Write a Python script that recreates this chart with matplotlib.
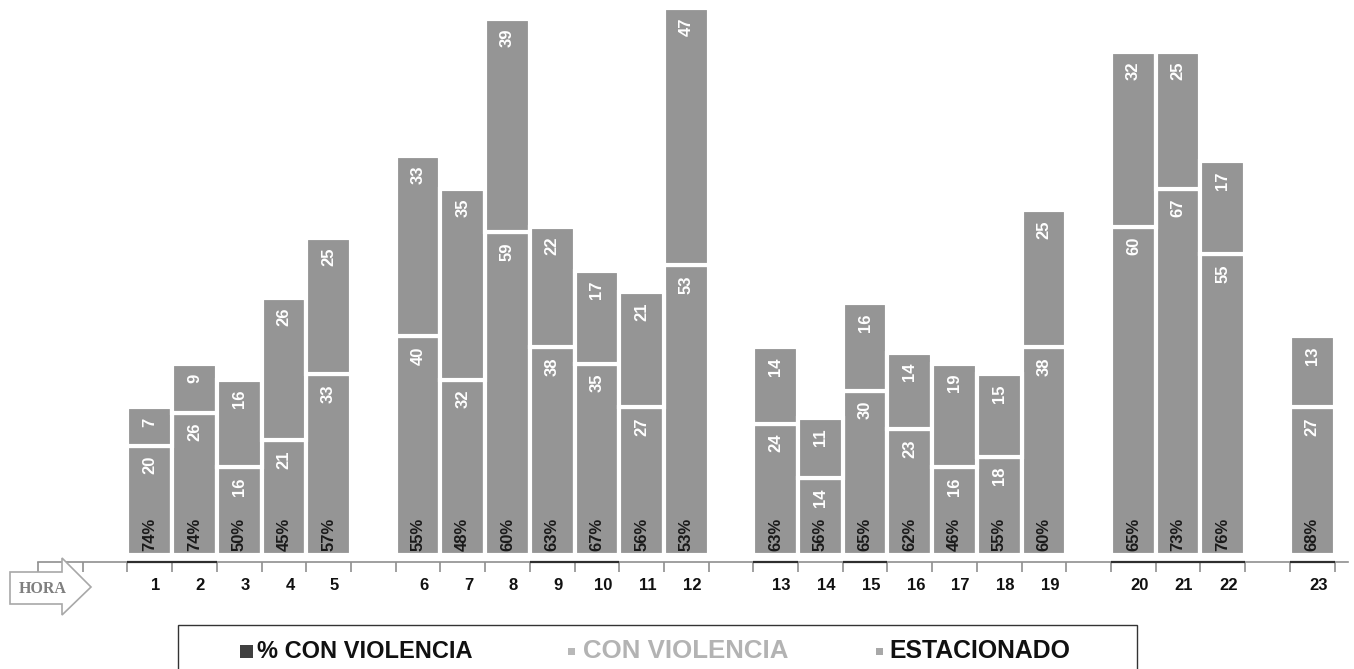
import matplotlib
matplotlib.use('Agg')
import matplotlib.pyplot as plt
from matplotlib.patches import Polygon, Rectangle
import numpy as np

# ---------------- data ----------------
horas = [str(i) for i in range(1, 24)]
con_violencia = [20, 26, 16, 21, 33, 40, 32, 59, 38, 35, 27, 53,
                 24, 14, 30, 23, 16, 18, 38, 60, 67, 55, 27]
estacionado = [7, 9, 16, 26, 25, 33, 35, 39, 22, 17, 21, 47,
               14, 11, 16, 14, 19, 15, 25, 32, 25, 17, 13]
pct_con_violencia = [74, 74, 50, 45, 57, 55, 48, 60, 63, 67, 56, 53,
                     63, 56, 65, 62, 46, 55, 60, 65, 73, 76, 68]
grupos = [5, 7, 7, 3, 1]          # hours per block (blocks separated by an empty slot)
legend_labels = ['% CON VIOLENCIA', 'CON VIOLENCIA', 'ESTACIONADO']

# ---------------- layout ----------------
pos = []
s = 0
for g in grupos:
    pos.extend(range(s, s + g))
    s += g + 1
pos = np.array(pos, float)

W, H = 1354, 669
fig = plt.figure(figsize=(W / 100, H / 100), dpi=100)
FONT = 'Liberation Sans'
plt.rcParams['font.family'] = [FONT, 'DejaVu Sans']

ppu = 5.47                     # pixels per unit
ax_h_px = 562
y0 = -7 / ppu
ax = fig.add_axes([38 / W, (H - 562) / H, 1310 / W, ax_h_px / H])
ax.set_ylim(y0, y0 + ax_h_px / ppu)
ax.set_xlim(-2.5, 26.8)

bar_col = '#959595'
ax.bar(pos, con_violencia, width=1.0, color=bar_col, edgecolor='white', linewidth=3, zorder=2)
ax.bar(pos, estacionado, bottom=con_violencia, width=1.0, color=bar_col,
       edgecolor='white', linewidth=3, zorder=2)

for x, a, b, p, h in zip(pos, con_violencia, estacionado, pct_con_violencia, horas):
    ax.annotate(str(a), xy=(x, a), xytext=(0, -10), textcoords='offset pixels',
                rotation=90, ha='center', va='top', color='white',
                fontweight='bold', fontsize=12, zorder=4)
    ax.annotate(str(b), xy=(x, a + b), xytext=(0, -10), textcoords='offset pixels',
                rotation=90, ha='center', va='top', color='white',
                fontweight='bold', fontsize=12, zorder=4)
    ax.annotate(f'{p}%', xy=(x, 0), xytext=(0, 4), textcoords='offset pixels',
                rotation=90, ha='center', va='bottom', color='#1a1a1a',
                fontweight='bold', fontsize=12, zorder=4)
    ax.annotate(h, xy=(x, y0), xytext=(6, -23), textcoords='offset pixels',
                ha='center', va='center', color='#111111',
                fontweight='bold', fontsize=12, annotation_clip=False)
    if p >= 63:
        ax.hlines(y0, x - 0.5, x + 0.5, color='#2e2e2e', lw=1.6, zorder=6, clip_on=False)

for sp in ['top', 'left', 'right']:
    ax.spines[sp].set_visible(False)
ax.spines['bottom'].set_color('#8f8f8f')
ax.spines['bottom'].set_linewidth(1.2)
ax.set_yticks([])
ax.set_xticks(np.arange(-2.5, 27, 1.0))
ax.set_xticklabels([])
ax.tick_params(axis='x', direction='out', length=7, width=1.2, color='#8f8f8f')


def fx(x):
    return x / W


def fy(y):
    return 1 - y / H


# ---------------- HORA arrow ----------------
arrow_px = [(10, 572), (62, 572), (62, 558), (91, 587), (62, 615), (62, 604), (10, 604)]
fig.add_artist(Polygon([(fx(x), fy(y)) for x, y in arrow_px], closed=True,
                       transform=fig.transFigure, facecolor='white',
                       edgecolor='#a8a8a8', lw=1.2, zorder=10))
fig.text(fx(43), fy(589), 'HORA', family=['Liberation Serif', 'DejaVu Serif'],
         fontweight='bold', fontsize=11.5, color='#7f7f7f', ha='center', va='center', zorder=11)

# ---------------- legend ----------------
fig.add_artist(Rectangle((fx(178), fy(680)), (1137 - 178) / W, (680 - 625) / H,
                         transform=fig.transFigure, fill=False, edgecolor='#333333', lw=1))
fig.add_artist(Rectangle((fx(240), fy(658)), 13 / W, 13 / H, transform=fig.transFigure,
                         facecolor='#404040', edgecolor='none'))
fig.text(fx(257), fy(651), legend_labels[0], fontweight='bold', fontsize=17,
         color='#111111', ha='left', va='center')
fig.add_artist(Rectangle((fx(568), fy(655)), 7 / W, 7 / H, transform=fig.transFigure,
                         facecolor='#b8b8b8', edgecolor='none'))
fig.text(fx(583), fy(651), legend_labels[1], fontweight='bold', fontsize=18.6,
         color='#b3b3b3', ha='left', va='center')
fig.add_artist(Rectangle((fx(876), fy(655)), 7 / W, 7 / H, transform=fig.transFigure,
                         facecolor='#a8a8a8', edgecolor='none'))
fig.text(fx(889), fy(651), legend_labels[2], fontweight='bold', fontsize=17.8,
         color='#111111', ha='left', va='center')

fig.savefig('out.png', dpi=100, facecolor='white')
